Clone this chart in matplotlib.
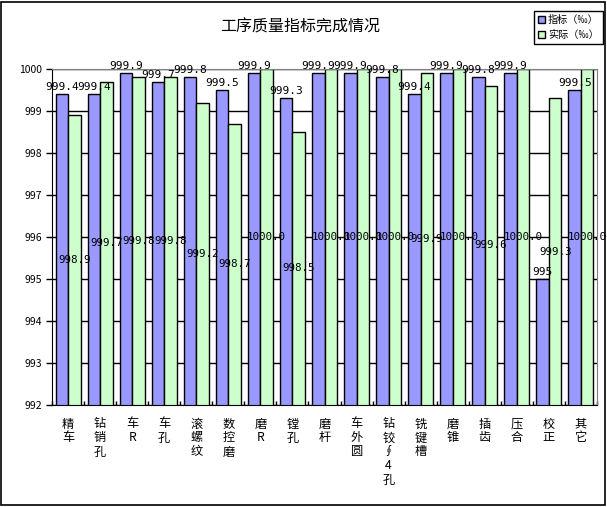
import matplotlib
matplotlib.use('Agg')
import matplotlib.pyplot as plt
from matplotlib.patches import Patch, Rectangle
import numpy as np

plt.rcParams['font.family'] = ['Noto Sans CJK SC', 'DejaVu Sans']

# data
categories = ['精车', '钻销孔', '车R', '车孔', '滚螺纹', '数控磨', '磨R', '镗孔', '磨杆',
              '车外圆', '钻铰∮4孔', '铣键槽', '磨锥', '插齿', '压合', '校正', '其它']
target = [999.4, 999.4, 999.9, 999.7, 999.8, 999.5, 999.9, 999.3, 999.9,
          999.9, 999.8, 999.4, 999.9, 999.8, 999.9, 995, 999.5]
actual = [998.9, 999.7, 999.8, 999.8, 999.2, 998.7, 1000.0, 998.5, 1000.0,
          1000.0, 1000.0, 999.9, 1000.0, 999.6, 1000.0, 999.3, 1000.0]
yticks = [992, 993, 994, 995, 996, 997, 998, 999, 1000]

blue = '#9999FF'
green = '#CCFFCC'

fig = plt.figure(figsize=(6.07, 5.07), dpi=100)
ax = fig.add_axes([0.0857, 0.2012, 0.8978, 0.6627])

x = np.arange(len(categories))
w = 0.39
ax.bar(x - w/2, target, w, color=blue, edgecolor='black', linewidth=1, zorder=2)
ax.bar(x + w/2, actual, w, color=green, edgecolor='black', linewidth=1, zorder=2)

ymin, ymax = yticks[0], yticks[-1]
ax.set_ylim(ymin, ymax)
ax.set_xlim(-0.5, len(categories) - 0.5)

# value labels: target above bar, actual in the middle of the bar
for xi, v in zip(x, target):
    ax.annotate(f'{v:g}', (xi - w/2, v), xytext=(0, 1.5), textcoords='offset points',
                ha='center', va='bottom', fontsize=8, family='DejaVu Sans Mono',
                clip_on=False, zorder=4)
for xi, v in zip(x, actual):
    mid = (ymin + min(v, ymax)) / 2
    ax.text(xi + w/2, mid, f'{v:.1f}', ha='center', va='center', fontsize=7.8,
            family='DejaVu Sans Mono', zorder=4)

ax.set_yticks(yticks)
ax.set_yticklabels([str(t) for t in yticks], fontsize=7.5)
ax.yaxis.grid(True, color='black', linewidth=1, zorder=0)
ax.tick_params(axis='y', length=4, width=1, direction='out', pad=3)

ax.set_xticks(x)
ax.set_xticklabels(['\n'.join(c) for c in categories], fontsize=8.8, linespacing=1.1)
ax.tick_params(axis='x', length=0, pad=9)
ax.set_xticks(np.arange(len(categories) + 1) - 0.5, minor=True)
ax.tick_params(axis='x', which='minor', length=3, direction='in', width=1)

for side in ['top', 'right']:
    ax.spines[side].set_color('#808080')
for side in ['left', 'bottom']:
    ax.spines[side].set_color('black')
ax.set_axisbelow(True)

fig.text(0.495, 0.947, '工序质量指标完成情况', ha='center', va='center', fontsize=11.5)

handles = [Patch(facecolor=blue, edgecolor='black', label='指标（‰）'),
           Patch(facecolor=green, edgecolor='black', label='实际（‰）')]
leg = fig.legend(handles=handles, loc='upper right', bbox_to_anchor=(0.993, 0.978),
                 fontsize=7.3, fancybox=False, edgecolor='black', framealpha=1,
                 handlelength=0.7, handleheight=0.7, handletextpad=0.3,
                 borderpad=0.4, labelspacing=0.5, borderaxespad=0)
leg.get_frame().set_linewidth(1)

fig.patches.append(Rectangle((0.002, 0.003), 0.994, 0.994, transform=fig.transFigure,
                             fill=False, edgecolor='black', linewidth=1.2))

fig.savefig('out.png', dpi=100)
